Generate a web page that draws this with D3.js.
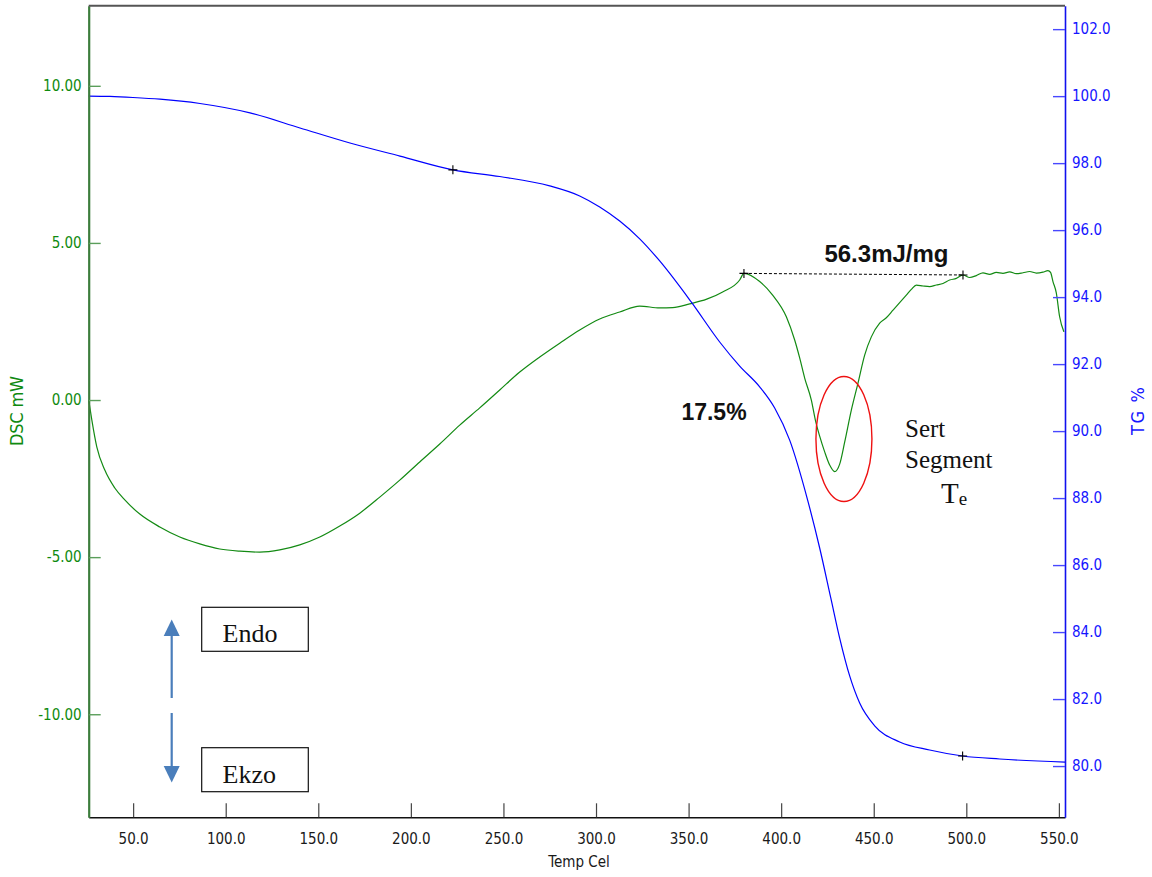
<!DOCTYPE html>
<html>
<head>
<meta charset="utf-8">
<script src="https://cdn.jsdelivr.net/npm/d3@7"></script>
<style>
  html, body { margin: 0; padding: 0; background: #ffffff; }
  svg { display: block; }
  .tick text { font-family: "DejaVu Sans Condensed", "DejaVu Sans", sans-serif; font-size: 15px; }
</style>
</head>
<body>
<div id="chart"></div>
<script>
// Temperature axis ticks (°C)
const tempTicks = [50, 100, 150, 200, 250, 300, 350, 400, 450, 500, 550];
// DSC axis ticks (mW)
const dscTicks = [-10, -5, 0, 5, 10];
// TG axis ticks (%)
const tgTicks = [80, 82, 84, 86, 88, 90, 92, 94, 96, 98, 100, 102];

// DSC signal: temperature (°C) and heat flow (mW)
const dscTemp = [26.0, 27.7, 30.4, 34.7, 40.1, 45.5, 53.6, 64.4, 75.2, 86.0, 96.8, 107.6, 118.4, 129.2,
  140.0, 150.8, 161.6, 172.4, 183.2, 194.0, 204.8, 215.6, 226.4, 237.2, 248.0, 258.8, 269.6, 280.4,
  291.2, 302.0, 312.8, 323.6, 334.4, 341.4, 350.6, 359.8, 368.4, 377.6, 379.9, 388.4, 395.4, 402.8,
  407.3, 410.0, 412.7, 416.3, 418.6, 420.8, 423.5, 426.2, 428.9, 431.6, 434.3, 437.9, 441.5, 445.1,
  448.7, 453.2, 456.8, 460.4, 464.0, 467.6, 470.3, 473.0, 476.6, 480.2, 483.8, 487.4, 491.0, 494.6,
  498.2, 501.8, 505.4, 509.0, 512.6, 516.2, 519.8, 523.4, 527.0, 530.6, 534.2, 537.8, 541.4, 544.1,
  545.5, 546.8, 548.6, 550.4, 552.7];
const dscValue = [0.00, -0.64, -1.50, -2.23, -2.80, -3.18, -3.63, -4.04, -4.36, -4.58, -4.74, -4.81, -4.84, -4.77,
  -4.61, -4.36, -4.01, -3.60, -3.09, -2.55, -1.97, -1.40, -0.80, -0.25, 0.32, 0.89, 1.37, 1.81,
  2.23, 2.58, 2.80, 2.99, 2.93, 2.94, 3.06, 3.21, 3.44, 3.82, 4.03, 3.77, 3.34, 2.65,
  1.91, 1.34, 0.70, 0.00, -0.67, -1.15, -1.65, -2.07, -2.28, -2.04, -1.34, -0.32, 0.54, 1.43,
  2.01, 2.45, 2.62, 2.86, 3.10, 3.34, 3.52, 3.66, 3.63, 3.61, 3.66, 3.71, 3.82, 3.87,
  3.98, 3.90, 3.96, 4.05, 4.00, 4.06, 4.03, 4.08, 4.02, 4.05, 4.09, 4.04, 4.07, 4.12,
  4.06, 3.77, 3.41, 2.65, 2.17];

// TG signal: temperature (°C) and remaining mass (%)
const tgTemp = [26.0, 37.5, 49.9, 64.5, 86.1, 113.1, 140.1, 167.1, 194.1, 222.7, 248.0, 275.0, 291.2,
  302.0, 312.8, 323.6, 334.4, 351.5, 366.8, 377.6, 388.4, 396.5, 404.6, 414.3, 420.8, 426.8, 431.6,
  437.0, 442.4, 450.5, 464.0, 480.2, 498.0, 518.0, 553.3];
const tgValue = [100.00, 99.99, 99.96, 99.91, 99.78, 99.50, 99.05, 98.60, 98.21, 97.80, 97.60, 97.32, 97.02,
  96.69, 96.27, 95.74, 95.08, 93.85, 92.66, 91.94, 91.32, 90.69, 89.73, 87.94, 86.51, 85.02, 83.82,
  82.69, 81.88, 81.20, 80.72, 80.48, 80.30, 80.21, 80.12];

// Peak integration limits on the DSC curve (°C, mW)
const peakLimitTemp = [379.9, 498.2];
const peakLimitValue = [4.03, 3.98];
const peakEnthalpy = "56.3mJ/mg";

// Mass-loss step limits on the TG curve (°C, %)
const stepTemp = [222.7, 498.0];
const stepValue = [97.80, 80.30];

const W = 1152, H = 877;
const plot = { left: 88.7, right: 1065, top: 5.7, bottom: 817.3 };

const x = d3.scaleLinear().domain([26, 553.3]).range([plot.left, plot.right]);
const yDsc = d3.scaleLinear().domain([-13.28, 12.55]).range([plot.bottom, plot.top]);
const yTg = d3.scaleLinear().domain([78.47, 102.70]).range([plot.bottom, plot.top]);

const svg = d3.select("#chart").append("svg").attr("width", W).attr("height", H);

// Curves
const dscLine = d3.line().x(d => x(d[0])).y(d => yDsc(d[1])).curve(d3.curveMonotoneX);
const tgLine = d3.line().x(d => x(d[0])).y(d => yTg(d[1])).curve(d3.curveMonotoneX);

svg.append("path")
  .datum(dscTemp.map((t, i) => [t, dscValue[i]]))
  .attr("d", dscLine).attr("fill", "none").attr("stroke", "#138a13").attr("stroke-width", 1.2);

svg.append("path")
  .datum(tgTemp.map((t, i) => [t, tgValue[i]]))
  .attr("d", tgLine).attr("fill", "none").attr("stroke", "#0000ff").attr("stroke-width", 1.2);

// Integration baseline of the DSC peak
svg.append("line")
  .attr("x1", x(peakLimitTemp[0])).attr("y1", yDsc(peakLimitValue[0]))
  .attr("x2", x(peakLimitTemp[1])).attr("y2", yDsc(peakLimitValue[1]))
  .attr("stroke", "#000").attr("stroke-width", 1).attr("stroke-dasharray", "3,2");

// Cross markers at the analysis limits
function cross(cx, cy) {
  const s = 4.5;
  svg.append("path")
    .attr("d", `M${cx - s},${cy}H${cx + s}M${cx},${cy - s}V${cy + s}`)
    .attr("stroke", "#000").attr("stroke-width", 1.1);
}
peakLimitTemp.forEach((t, i) => cross(x(t), yDsc(peakLimitValue[i])));
stepTemp.forEach((t, i) => cross(x(t), yTg(stepValue[i])));

// Axes
const axisFont = "'DejaVu Sans Condensed', 'DejaVu Sans', sans-serif";
const hyphen = f => d => f(d).replace("\u2212", "-");

const gx = svg.append("g").attr("transform", `translate(0,${plot.bottom})`)
  .call(d3.axisBottom(x).tickValues(tempTicks).tickFormat(d3.format(".1f"))
    .tickSizeInner(-14).tickSizeOuter(0).tickPadding(16));
gx.select(".domain").attr("stroke", "#111").attr("stroke-width", 1.6);
gx.selectAll(".tick line").attr("stroke", "#444").attr("stroke-width", 1.2);
gx.selectAll(".tick text").attr("fill", "#1a1a1a");

const gl = svg.append("g").attr("transform", `translate(${plot.left},0)`)
  .call(d3.axisLeft(yDsc).tickValues(dscTicks).tickFormat(hyphen(d3.format(".2f")))
    .tickSizeInner(-12).tickSizeOuter(0).tickPadding(7));
gl.select(".domain").attr("stroke", "#3c7d3c").attr("stroke-width", 2.2);
gl.selectAll(".tick line").attr("stroke", "#5a9e5a").attr("stroke-width", 1.4);
gl.selectAll(".tick text").attr("fill", "#0f8a0f");

const gr = svg.append("g").attr("transform", `translate(${plot.right},0)`)
  .call(d3.axisRight(yTg).tickValues(tgTicks).tickFormat(d3.format(".1f"))
    .tickSizeInner(-12).tickSizeOuter(0).tickPadding(7));
gr.select(".domain").attr("stroke", "#1010ee").attr("stroke-width", 1.6);
gr.selectAll(".tick line").attr("stroke", "#4848ff").attr("stroke-width", 1.4);
gr.selectAll(".tick text").attr("fill", "#1515ff");

// Top frame
svg.append("line")
  .attr("x1", plot.left).attr("x2", plot.right).attr("y1", plot.top).attr("y2", plot.top)
  .attr("stroke", "#555").attr("stroke-width", 2);

// Axis titles
svg.append("text").attr("transform", `translate(23,411) rotate(-90)`)
  .attr("text-anchor", "middle").attr("font-family", axisFont).attr("font-size", 18)
  .attr("textLength", 70).attr("lengthAdjust", "spacing")
  .attr("fill", "#0f8a0f").text("DSC mW");
svg.append("text").attr("transform", `translate(1144,411) rotate(-90)`)
  .attr("text-anchor", "middle").attr("font-family", axisFont).attr("font-size", 18)
  .attr("textLength", 48).attr("lengthAdjust", "spacing")
  .attr("fill", "#1515ff").text("TG %");
svg.append("text").attr("x", 579).attr("y", 867)
  .attr("text-anchor", "middle").attr("font-family", axisFont).attr("font-size", 15)
  .attr("fill", "#1a1a1a").text("Temp Cel");

// Annotations
const boldFont = "'Liberation Sans', Arial, sans-serif";
const serif = "'Liberation Serif', 'Times New Roman', serif";

svg.append("text")
  .attr("x", (x(peakLimitTemp[0]) + x(peakLimitTemp[1])) / 2 + 33).attr("y", 262)
  .attr("text-anchor", "middle").attr("font-family", boldFont).attr("font-weight", "bold")
  .attr("font-size", 24).attr("fill", "#111").text(peakEnthalpy);

svg.append("text")
  .attr("x", 714).attr("y", 420)
  .attr("text-anchor", "middle").attr("font-family", boldFont).attr("font-weight", "bold")
  .attr("font-size", 23).attr("fill", "#111")
  .text(d3.format(".1f")(stepValue[0] - stepValue[1]) + "%");

// Highlighted segment of the DSC peak
svg.append("ellipse")
  .attr("cx", x(433.9)).attr("cy", yDsc(-1.24)).attr("rx", 28).attr("ry", 62.5)
  .attr("fill", "none").attr("stroke", "#ee1111").attr("stroke-width", 1.4);

svg.append("text").attr("x", 905).attr("y", 437).attr("font-family", serif)
  .attr("font-size", 25).attr("fill", "#111").text("Sert");
svg.append("text").attr("x", 905).attr("y", 468).attr("font-family", serif)
  .attr("font-size", 25).attr("fill", "#111").text("Segment");
const te = svg.append("text").attr("x", 941).attr("y", 503).attr("font-family", serif)
  .attr("fill", "#111");
te.append("tspan").attr("font-size", 29).text("T");
te.append("tspan").attr("font-size", 19).attr("dy", 2).text("e");

// Endo / Ekzo direction legend
const arrowColor = "#4a7ebb";
const ax = 171.7;
svg.append("line").attr("x1", ax).attr("x2", ax).attr("y1", 698).attr("y2", 633)
  .attr("stroke", arrowColor).attr("stroke-width", 2.2);
svg.append("path").attr("d", `M${ax},619.5L${ax + 8},636L${ax - 8},636Z`).attr("fill", arrowColor);
svg.append("line").attr("x1", ax).attr("x2", ax).attr("y1", 713).attr("y2", 768)
  .attr("stroke", arrowColor).attr("stroke-width", 2.2);
svg.append("path").attr("d", `M${ax},782.5L${ax + 8},766L${ax - 8},766Z`).attr("fill", arrowColor);

[["Endo", 607.3, 641.5], ["Ekzo", 747.7, 782.5]].forEach(([label, top, base]) => {
  svg.append("rect").attr("x", 201.7).attr("y", top).attr("width", 106.6).attr("height", 44)
    .attr("fill", "#fff").attr("stroke", "#111").attr("stroke-width", 1.2);
  svg.append("text").attr("x", 222.5).attr("y", base).attr("font-family", serif)
    .attr("font-size", 26).attr("fill", "#111").text(label);
});
</script>
</body>
</html>
